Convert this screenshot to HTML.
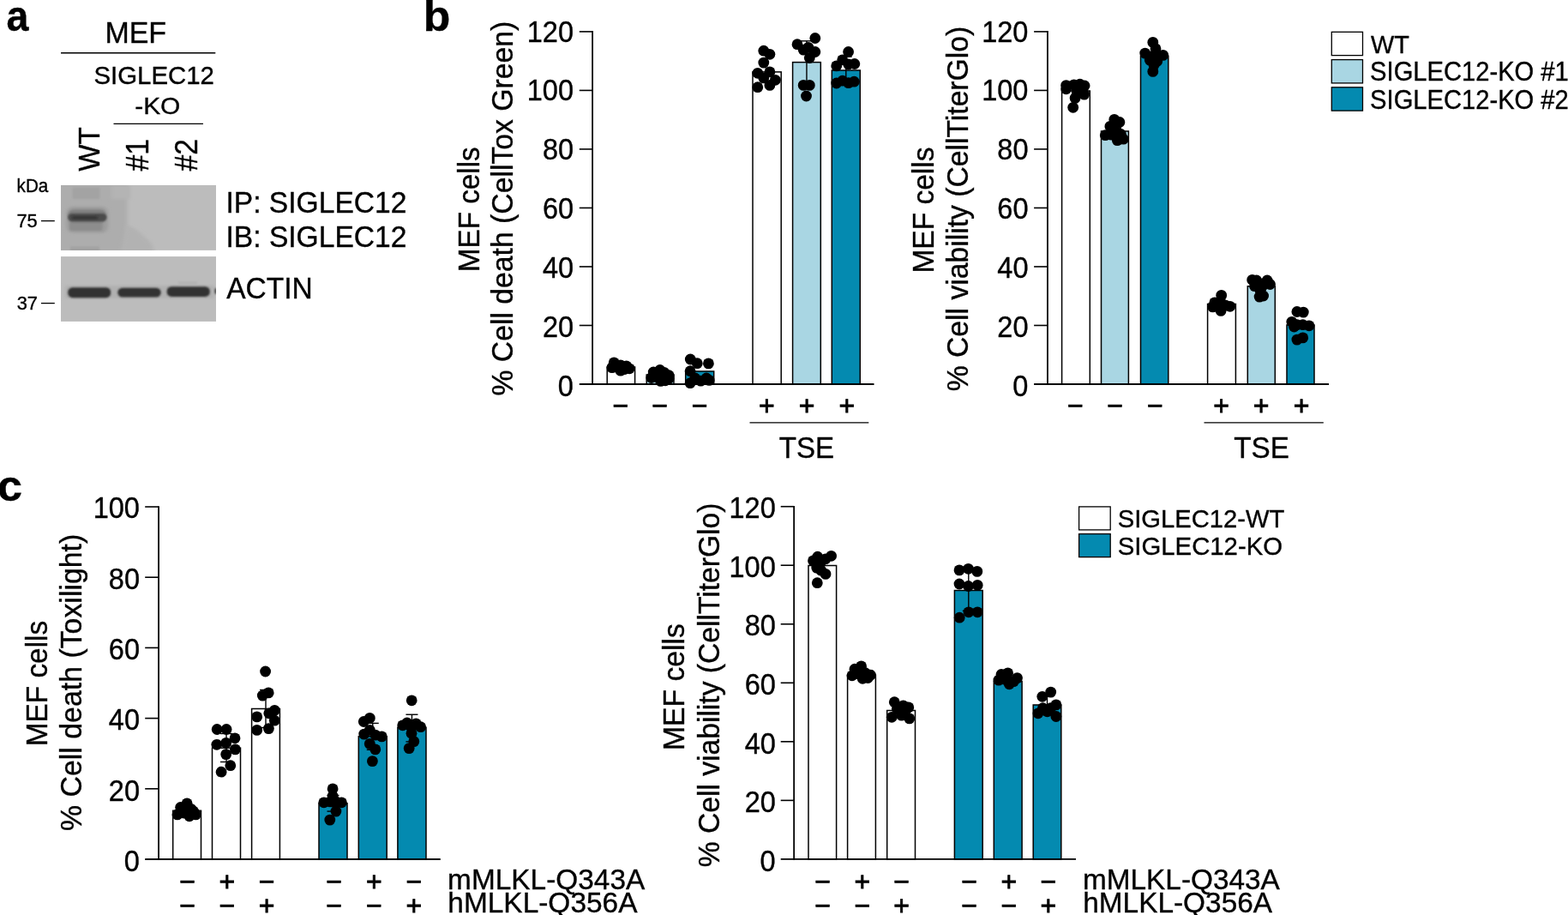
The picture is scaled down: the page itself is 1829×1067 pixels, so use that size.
<!DOCTYPE html>
<html lang="en">
<head>
<meta charset="utf-8">
<title>SIGLEC12 knockout MEF cell death and viability</title>
<style>
html,body{margin:0;padding:0;background:#fff;}
body{width:1829px;height:1067px;overflow:hidden;}
svg{display:block;}
svg text{font-family:"Liberation Sans", sans-serif;fill:#000;stroke:#000;stroke-width:0.35px;}
svg text.sg{stroke-width:0.8px;}
</style>
</head>
<body>
<svg width="1829" height="1067" viewBox="0 0 1829 1067">
<defs>
<filter id="bl1" x="-20%" y="-60%" width="140%" height="220%"><feGaussianBlur stdDeviation="1.3 1.1"/></filter>
<filter id="bl2" x="-20%" y="-60%" width="140%" height="220%"><feGaussianBlur stdDeviation="2.2 1.8"/></filter>
<filter id="bl3" x="-30%" y="-80%" width="160%" height="260%"><feGaussianBlur stdDeviation="3"/></filter>
<filter id="bl6" x="-40%" y="-40%" width="180%" height="180%"><feGaussianBlur stdDeviation="6"/></filter>
<clipPath id="clipA"><rect x="71" y="215.9" width="181" height="76"/></clipPath>
<clipPath id="clipB"><rect x="71" y="299.1" width="181" height="75.8"/></clipPath>
</defs>
<rect x="0" y="0" width="1829" height="1067" fill="#ffffff"/>

<g id="panel-a">
<text transform="translate(7.52 36.29) scale(1.0118 1.1028)" font-size="46" font-weight="bold">a</text>
</g>
<g id="panel-b-label">
<text transform="translate(493.67 36.29) scale(1.1226 1.1028)" font-size="46" font-weight="bold">b</text>
</g>
<g id="panel-c-label">
<text transform="translate(-3.05 584.29) scale(1.1339 1.1008)" font-size="46" font-weight="bold">c</text>
</g>
<g id="blot">
<text transform="translate(122.38 50.1) scale(1.029 1.0452)" font-size="33">MEF</text>
<line x1="71" y1="61.75" x2="251.3" y2="61.75" stroke="#000000" stroke-width="1.3"/>
<text transform="translate(109.49 97.81) scale(1.0494 1.0312)" font-size="28">SIGLEC12</text>
<text transform="translate(157.2 132.52) scale(1.0693 1.0161)" font-size="28">-KO</text>
<line x1="132.5" y1="144.3" x2="237" y2="144.3" stroke="#000000" stroke-width="1.3"/>
<text transform="translate(116.23 199.7) rotate(-90) scale(1.0041 1.0684)" font-size="33">WT</text>
<text transform="translate(173.2 199.5) rotate(-90) scale(1.0168 1.1039)" font-size="33">#1</text>
<text transform="translate(229.5 199.5) rotate(-90) scale(1.0168 1.1039)" font-size="33">#2</text>
<text transform="translate(19.61 223.54) scale(0.9843 1.0135)" font-size="21">kDa</text>
<text transform="translate(19.41 265.38) scale(1.0411 1.0403)" font-size="21">75</text>
<text transform="translate(19.64 361.44) scale(1.0393 1.057)" font-size="21">37</text>
<line x1="48" y1="257.6" x2="63.8" y2="257.6" stroke="#000000" stroke-width="1.3"/>
<line x1="48" y1="353.6" x2="63.8" y2="353.6" stroke="#000000" stroke-width="1.3"/>
<rect x="71" y="215.9" width="181" height="76" fill="#bcbcbc"/>
<g clip-path="url(#clipA)">
<rect x="55" y="200" width="93.5" height="110" fill="#adadad" filter="url(#bl2)"/>
<path d="M148 262 L160 268 L176 283 L182 296 L140 296 Z" fill="#b2b2b2" filter="url(#bl2)"/>
<rect x="130" y="216" width="22" height="16" fill="#b4b4b4" filter="url(#bl2)"/>
<rect x="84.5" y="218.5" width="32" height="13.5" fill="#a3a3a3" filter="url(#bl1)"/>
<rect x="77.5" y="241" width="48.5" height="30.5" rx="8" fill="#9b9b9b" filter="url(#bl2)"/>
<rect x="81" y="257.5" width="38.5" height="11.5" rx="3" fill="#8d8d8d" filter="url(#bl1)"/>
<rect x="79.5" y="244.5" width="44" height="15" rx="6" fill="#808080" filter="url(#bl1)"/>
<rect x="79.3" y="249" width="45.2" height="9.2" rx="4.6" fill="#4b4b4b" filter="url(#bl1)"/>
<rect x="84" y="252.2" width="30" height="3.4" rx="1.7" fill="#353535" filter="url(#bl1)"/>
<rect x="82" y="287.5" width="34" height="8" fill="#a1a1a1" filter="url(#bl1)"/>
</g>
<rect x="71" y="299.1" width="181" height="75.8" fill="#bcbcbc"/>
<g clip-path="url(#clipB)">
<rect x="76" y="333" width="174" height="15" fill="#b0b0b0" filter="url(#bl2)"/>
<rect x="79.2" y="335.2" width="50" height="12" rx="5.5" fill="#303030" filter="url(#bl1)"/>
<rect x="137.3" y="335.7" width="50.4" height="10.9" rx="5.5" fill="#303030" filter="url(#bl1)"/>
<rect x="194.6" y="334.2" width="50.2" height="11.7" rx="5.5" fill="#303030" filter="url(#bl1)"/>
<rect x="250.3" y="336" width="4" height="7" rx="2" fill="#4a4a4a" filter="url(#bl1)"/>
<rect x="208" y="328.5" width="22" height="3" fill="#b1b1b1" filter="url(#bl1)"/>
</g>
<text transform="translate(263.48 248.1) scale(1.018 1.0496)" font-size="33">IP: SIGLEC12</text>
<text transform="translate(263.48 287.8) scale(1.018 1.054)" font-size="33">IB: SIGLEC12</text>
<text transform="translate(264.2 347.5) scale(1.0149 1.0452)" font-size="33">ACTIN</text>
</g>
<g id="panel-b">
<g class="bars" stroke="#000000" stroke-width="1.5">
<rect x="708.2" y="428" width="32.4" height="20" fill="#ffffff"/>
<rect x="754.2" y="437" width="31.8" height="11" fill="#a9d6e3"/>
<rect x="799.7" y="433" width="33" height="15" fill="#048ab0"/>
<rect x="878" y="83.9" width="33.2" height="364.1" fill="#ffffff"/>
<rect x="924.6" y="72.6" width="32.7" height="375.4" fill="#a9d6e3"/>
<rect x="970.3" y="82" width="33" height="366" fill="#048ab0"/>
</g>
<line x1="691.1" y1="36.1" x2="691.1" y2="448.9" stroke="#000000" stroke-width="1.8"/>
<line x1="675.8" y1="448" x2="1019.5" y2="448" stroke="#000000" stroke-width="1.8"/>
<text transform="translate(650.85 462.07) scale(0.985 1.06)" font-size="33">0</text>
<line x1="675.8" y1="379.48" x2="691.1" y2="379.48" stroke="#000000" stroke-width="1.6"/>
<text transform="translate(632.91 393.15) scale(0.985 1.06)" font-size="33">20</text>
<line x1="675.8" y1="310.97" x2="691.1" y2="310.97" stroke="#000000" stroke-width="1.6"/>
<text transform="translate(632.91 324.23) scale(0.985 1.06)" font-size="33">40</text>
<line x1="675.8" y1="242.45" x2="691.1" y2="242.45" stroke="#000000" stroke-width="1.6"/>
<text transform="translate(632.91 255.32) scale(0.985 1.06)" font-size="33">60</text>
<line x1="675.8" y1="173.93" x2="691.1" y2="173.93" stroke="#000000" stroke-width="1.6"/>
<text transform="translate(632.91 186.4) scale(0.985 1.06)" font-size="33">80</text>
<line x1="675.8" y1="105.42" x2="691.1" y2="105.42" stroke="#000000" stroke-width="1.6"/>
<text transform="translate(614.77 117.48) scale(0.985 1.06)" font-size="33">100</text>
<line x1="675.8" y1="36.9" x2="691.1" y2="36.9" stroke="#000000" stroke-width="1.6"/>
<text transform="translate(614.77 48.57) scale(0.985 1.06)" font-size="33">120</text>
<g class="points">
<circle cx="716.2" cy="422.9" r="6.4"/>
<circle cx="713.9" cy="428.6" r="6.4"/>
<circle cx="723.9" cy="425.8" r="6.4"/>
<circle cx="730.6" cy="426.8" r="6.4"/>
<circle cx="734.2" cy="429.8" r="6.4"/>
<circle cx="723.9" cy="432.2" r="6.4"/>
<circle cx="719" cy="428" r="6.4"/>
<circle cx="728" cy="430.6" r="6.4"/>
<circle cx="769.8" cy="431.5" r="6.4"/>
<circle cx="762.2" cy="434" r="6.4"/>
<circle cx="759.8" cy="440.5" r="6.4"/>
<circle cx="780.2" cy="437.7" r="6.4"/>
<circle cx="780.2" cy="441.5" r="6.4"/>
<circle cx="770.6" cy="444.4" r="6.4"/>
<circle cx="774.7" cy="434.4" r="6.4"/>
<circle cx="765.7" cy="439.3" r="6.4"/>
<circle cx="776" cy="443.8" r="6.4"/>
<circle cx="805.3" cy="419" r="6.4"/>
<circle cx="813.3" cy="423.7" r="6.4"/>
<circle cx="826.4" cy="423.9" r="6.4"/>
<circle cx="805.1" cy="432.7" r="6.4"/>
<circle cx="805.1" cy="446.7" r="6.4"/>
<circle cx="810.8" cy="441" r="6.4"/>
<circle cx="824" cy="441" r="6.4"/>
<circle cx="827.2" cy="443.4" r="6.4"/>
<circle cx="817.4" cy="444.2" r="6.4"/>
<circle cx="890.8" cy="59.2" r="6.4"/>
<circle cx="897.9" cy="63.3" r="6.4"/>
<circle cx="890.8" cy="73.1" r="6.4"/>
<circle cx="883.8" cy="85.3" r="6.4"/>
<circle cx="897.9" cy="83.9" r="6.4"/>
<circle cx="890.8" cy="90.9" r="6.4"/>
<circle cx="904.4" cy="93.3" r="6.4"/>
<circle cx="897.9" cy="99.4" r="6.4"/>
<circle cx="883.8" cy="101.7" r="6.4"/>
<line x1="940.95" y1="47.8" x2="940.95" y2="97" stroke="#000000" stroke-width="1.4"/>
<line x1="933.95" y1="47.8" x2="947.95" y2="47.8" stroke="#000000" stroke-width="1.4"/>
<line x1="933.95" y1="97" x2="947.95" y2="97" stroke="#000000" stroke-width="1.4"/>
<circle cx="950.8" cy="44.5" r="6.4"/>
<circle cx="930" cy="51.7" r="6.4"/>
<circle cx="942.9" cy="55.3" r="6.4"/>
<circle cx="937.2" cy="58.1" r="6.4"/>
<circle cx="950.8" cy="60.5" r="6.4"/>
<circle cx="944.3" cy="67.5" r="6.4"/>
<circle cx="937.2" cy="99.4" r="6.4"/>
<circle cx="944.3" cy="99.4" r="6.4"/>
<circle cx="940.5" cy="112" r="6.4"/>
<line x1="986.8" y1="66" x2="986.8" y2="98" stroke="#000000" stroke-width="1.4"/>
<line x1="979.8" y1="66" x2="993.8" y2="66" stroke="#000000" stroke-width="1.4"/>
<line x1="979.8" y1="98" x2="993.8" y2="98" stroke="#000000" stroke-width="1.4"/>
<circle cx="989.6" cy="60.5" r="6.4"/>
<circle cx="982.7" cy="69.8" r="6.4"/>
<circle cx="975.7" cy="76.9" r="6.4"/>
<circle cx="989.7" cy="75" r="6.4"/>
<circle cx="996.8" cy="74.5" r="6.4"/>
<circle cx="975.7" cy="97" r="6.4"/>
<circle cx="982.7" cy="94.2" r="6.4"/>
<circle cx="989.7" cy="96.6" r="6.4"/>
<circle cx="996.3" cy="95.2" r="6.4"/>
</g>
<g class="bars" stroke="#000000" stroke-width="1.5">
<rect x="1238.6" y="106" width="32.7" height="342" fill="#ffffff"/>
<rect x="1284.5" y="153" width="31.9" height="295" fill="#a9d6e3"/>
<rect x="1330.5" y="65.3" width="32.3" height="382.7" fill="#048ab0"/>
<rect x="1408.6" y="354.5" width="32.8" height="93.5" fill="#ffffff"/>
<rect x="1455.3" y="333.8" width="32" height="114.2" fill="#a9d6e3"/>
<rect x="1501" y="379" width="32" height="69" fill="#048ab0"/>
</g>
<line x1="1221.95" y1="36.1" x2="1221.95" y2="448.9" stroke="#000000" stroke-width="1.8"/>
<line x1="1206.1" y1="448" x2="1550" y2="448" stroke="#000000" stroke-width="1.8"/>
<text transform="translate(1181.3 462.07) scale(0.985 1.06)" font-size="33">0</text>
<line x1="1206.1" y1="379.48" x2="1221.95" y2="379.48" stroke="#000000" stroke-width="1.6"/>
<text transform="translate(1163.36 393.15) scale(0.985 1.06)" font-size="33">20</text>
<line x1="1206.1" y1="310.97" x2="1221.95" y2="310.97" stroke="#000000" stroke-width="1.6"/>
<text transform="translate(1163.36 324.23) scale(0.985 1.06)" font-size="33">40</text>
<line x1="1206.1" y1="242.45" x2="1221.95" y2="242.45" stroke="#000000" stroke-width="1.6"/>
<text transform="translate(1163.36 255.32) scale(0.985 1.06)" font-size="33">60</text>
<line x1="1206.1" y1="173.93" x2="1221.95" y2="173.93" stroke="#000000" stroke-width="1.6"/>
<text transform="translate(1163.36 186.4) scale(0.985 1.06)" font-size="33">80</text>
<line x1="1206.1" y1="105.42" x2="1221.95" y2="105.42" stroke="#000000" stroke-width="1.6"/>
<text transform="translate(1145.22 117.48) scale(0.985 1.06)" font-size="33">100</text>
<line x1="1206.1" y1="36.9" x2="1221.95" y2="36.9" stroke="#000000" stroke-width="1.6"/>
<text transform="translate(1145.22 48.57) scale(0.985 1.06)" font-size="33">120</text>
<g class="points">
<circle cx="1243.6" cy="99.6" r="6.4"/>
<circle cx="1243.6" cy="103.8" r="6.4"/>
<circle cx="1252.7" cy="98.9" r="6.4"/>
<circle cx="1259.7" cy="98.2" r="6.4"/>
<circle cx="1265.1" cy="100" r="6.4"/>
<circle cx="1256.2" cy="107.3" r="6.4"/>
<circle cx="1264.7" cy="110.1" r="6.4"/>
<circle cx="1254.1" cy="114.4" r="6.4"/>
<circle cx="1251.7" cy="125.3" r="6.4"/>
<circle cx="1299.8" cy="139.4" r="6.4"/>
<circle cx="1305.9" cy="142.5" r="6.4"/>
<circle cx="1294.9" cy="147.4" r="6.4"/>
<circle cx="1301.9" cy="150.9" r="6.4"/>
<circle cx="1289.3" cy="157.7" r="6.4"/>
<circle cx="1307.5" cy="156.5" r="6.4"/>
<circle cx="1310.4" cy="162.2" r="6.4"/>
<circle cx="1303.3" cy="163.6" r="6.4"/>
<circle cx="1296.3" cy="157.2" r="6.4"/>
<circle cx="1344.8" cy="49.4" r="6.4"/>
<circle cx="1348" cy="56.7" r="6.4"/>
<circle cx="1335.7" cy="62.1" r="6.4"/>
<circle cx="1356.7" cy="64.4" r="6.4"/>
<circle cx="1345.5" cy="65.1" r="6.4"/>
<circle cx="1341.3" cy="70.1" r="6.4"/>
<circle cx="1349.7" cy="71.5" r="6.4"/>
<circle cx="1344.8" cy="83.4" r="6.4"/>
<circle cx="1346" cy="76" r="6.4"/>
<circle cx="1424.7" cy="344.4" r="6.4"/>
<circle cx="1416.8" cy="352.9" r="6.4"/>
<circle cx="1414.6" cy="357.9" r="6.4"/>
<circle cx="1424.1" cy="352.9" r="6.4"/>
<circle cx="1424.1" cy="362.4" r="6.4"/>
<circle cx="1434.8" cy="357.3" r="6.4"/>
<circle cx="1429.7" cy="356.2" r="6.4"/>
<circle cx="1421" cy="358" r="6.4"/>
<circle cx="1460.7" cy="326.4" r="6.4"/>
<circle cx="1465.7" cy="327" r="6.4"/>
<circle cx="1478.1" cy="327" r="6.4"/>
<circle cx="1481.5" cy="331.5" r="6.4"/>
<circle cx="1463.5" cy="333.7" r="6.4"/>
<circle cx="1472.5" cy="333.7" r="6.4"/>
<circle cx="1469.1" cy="346.1" r="6.4"/>
<circle cx="1473.6" cy="345" r="6.4"/>
<circle cx="1470" cy="339" r="6.4"/>
<circle cx="1512.9" cy="363.5" r="6.4"/>
<circle cx="1520.3" cy="364.1" r="6.4"/>
<circle cx="1506.8" cy="375.3" r="6.4"/>
<circle cx="1512.9" cy="378.7" r="6.4"/>
<circle cx="1519.7" cy="378.7" r="6.4"/>
<circle cx="1527" cy="379.8" r="6.4"/>
<circle cx="1512.9" cy="396.1" r="6.4"/>
<circle cx="1519.7" cy="393.9" r="6.4"/>
<circle cx="1509.5" cy="381" r="6.4"/>
</g>
<text transform="translate(558.6 317.16) rotate(-90) scale(1.0076 1.0496)" font-size="33">MEF cells</text>
<text transform="translate(598.2 461.61) rotate(-90) scale(1.0227 1.0496)" font-size="33">% Cell death (CellTox Green)</text>
<text transform="translate(1088.8 318.58) rotate(-90) scale(1.0154 1.0496)" font-size="33">MEF cells</text>
<text transform="translate(1128.8 456.31) rotate(-90) scale(1.0214 1.0496)" font-size="33">% Cell viability (CellTiterGlo)</text>
<text class="sg" x="714.48" y="483.67" font-size="32">−</text>
<text class="sg" x="760.18" y="483.67" font-size="32">−</text>
<text class="sg" x="806.68" y="483.67" font-size="32">−</text>
<text class="sg" x="885.06" y="483.72" font-size="32">+</text>
<text class="sg" x="931.66" y="483.72" font-size="32">+</text>
<text class="sg" x="978.46" y="483.72" font-size="32">+</text>
<line x1="874.5" y1="492.8" x2="1013.3" y2="492.8" stroke="#000000" stroke-width="1.3"/>
<text transform="translate(908.84 534) scale(1.0025 1.043)" font-size="33">TSE</text>
<text class="sg" x="1244.98" y="483.67" font-size="32">−</text>
<text class="sg" x="1291.28" y="483.67" font-size="32">−</text>
<text class="sg" x="1337.88" y="483.67" font-size="32">−</text>
<text class="sg" x="1415.26" y="483.72" font-size="32">+</text>
<text class="sg" x="1461.86" y="483.72" font-size="32">+</text>
<text class="sg" x="1508.66" y="483.72" font-size="32">+</text>
<line x1="1404.5" y1="492.8" x2="1543.8" y2="492.8" stroke="#000000" stroke-width="1.3"/>
<text transform="translate(1439.34 534) scale(1.0066 1.043)" font-size="33">TSE</text>
<rect x="1553.3" y="37.3" width="36.2" height="27.3" fill="#ffffff" stroke="#000000" stroke-width="1.3"/>
<rect x="1553.3" y="69.6" width="36.2" height="27.3" fill="#a9d6e3" stroke="#000000" stroke-width="1.3"/>
<rect x="1553.3" y="101.8" width="36.2" height="27.3" fill="#048ab0" stroke="#000000" stroke-width="1.3"/>
<text transform="translate(1599.03 62.15) scale(0.9959 1.042)" font-size="29">WT</text>
<text transform="translate(1598.1 94.3) scale(1.0052 1.0495)" font-size="29">SIGLEC12-KO #1</text>
<text transform="translate(1598.1 126.6) scale(1.0052 1.0495)" font-size="29">SIGLEC12-KO #2</text>
</g>
<g id="panel-c">
<g class="bars" stroke="#000000" stroke-width="1.5">
<rect x="201.7" y="945.3" width="32.8" height="56.7" fill="#ffffff"/>
<rect x="247.5" y="872.2" width="33" height="129.8" fill="#ffffff"/>
<rect x="293.6" y="826.5" width="32.8" height="175.5" fill="#ffffff"/>
<rect x="372" y="936.8" width="33" height="65.2" fill="#048ab0"/>
<rect x="418.3" y="858.8" width="32.9" height="143.2" fill="#048ab0"/>
<rect x="463.9" y="848.3" width="33.1" height="153.7" fill="#048ab0"/>
</g>
<line x1="185.05" y1="590.2" x2="185.05" y2="1002.9" stroke="#000000" stroke-width="1.8"/>
<line x1="169.2" y1="1002" x2="513.75" y2="1002" stroke="#000000" stroke-width="1.8"/>
<text transform="translate(144.75 1015.87) scale(0.985 1.06)" font-size="33">0</text>
<line x1="169.2" y1="919.8" x2="185.05" y2="919.8" stroke="#000000" stroke-width="1.6"/>
<text transform="translate(126.81 933.55) scale(0.985 1.06)" font-size="33">20</text>
<line x1="169.2" y1="837.6" x2="185.05" y2="837.6" stroke="#000000" stroke-width="1.6"/>
<text transform="translate(126.81 851.23) scale(0.985 1.06)" font-size="33">40</text>
<line x1="169.2" y1="755.4" x2="185.05" y2="755.4" stroke="#000000" stroke-width="1.6"/>
<text transform="translate(126.81 768.91) scale(0.985 1.06)" font-size="33">60</text>
<line x1="169.2" y1="673.2" x2="185.05" y2="673.2" stroke="#000000" stroke-width="1.6"/>
<text transform="translate(126.81 686.59) scale(0.985 1.06)" font-size="33">80</text>
<line x1="169.2" y1="591" x2="185.05" y2="591" stroke="#000000" stroke-width="1.6"/>
<text transform="translate(108.67 604.27) scale(0.985 1.06)" font-size="33">100</text>
<g class="points">
<circle cx="218.1" cy="936.8" r="6.4"/>
<circle cx="210.6" cy="941.5" r="6.4"/>
<circle cx="222.8" cy="943.3" r="6.4"/>
<circle cx="206.9" cy="949.9" r="6.4"/>
<circle cx="214.4" cy="948" r="6.4"/>
<circle cx="220.9" cy="951.8" r="6.4"/>
<circle cx="228.4" cy="949.9" r="6.4"/>
<circle cx="225.6" cy="946.1" r="6.4"/>
<line x1="264" y1="855.5" x2="264" y2="888.5" stroke="#000000" stroke-width="1.4"/>
<line x1="257" y1="855.5" x2="271" y2="855.5" stroke="#000000" stroke-width="1.4"/>
<line x1="257" y1="888.5" x2="271" y2="888.5" stroke="#000000" stroke-width="1.4"/>
<circle cx="253.2" cy="850.5" r="6.4"/>
<circle cx="264.1" cy="850.5" r="6.4"/>
<circle cx="274" cy="860.8" r="6.4"/>
<circle cx="252.8" cy="868.3" r="6.4"/>
<circle cx="263.7" cy="866.4" r="6.4"/>
<circle cx="274.4" cy="873.9" r="6.4"/>
<circle cx="263.7" cy="879.6" r="6.4"/>
<circle cx="268.8" cy="892.7" r="6.4"/>
<circle cx="258.1" cy="900.2" r="6.4"/>
<line x1="310" y1="804.5" x2="310" y2="848.5" stroke="#000000" stroke-width="1.4"/>
<line x1="303" y1="804.5" x2="317" y2="804.5" stroke="#000000" stroke-width="1.4"/>
<line x1="303" y1="848.5" x2="317" y2="848.5" stroke="#000000" stroke-width="1.4"/>
<circle cx="309.6" cy="783" r="6.4"/>
<circle cx="313.2" cy="807.9" r="6.4"/>
<circle cx="306.3" cy="811.1" r="6.4"/>
<circle cx="320.3" cy="828.4" r="6.4"/>
<circle cx="313.8" cy="831.8" r="6.4"/>
<circle cx="299.7" cy="835.9" r="6.4"/>
<circle cx="320.3" cy="840.2" r="6.4"/>
<circle cx="313.4" cy="849.6" r="6.4"/>
<circle cx="299.7" cy="851.4" r="6.4"/>
<line x1="388.5" y1="927.5" x2="388.5" y2="946.1" stroke="#000000" stroke-width="1.4"/>
<line x1="381.5" y1="927.5" x2="395.5" y2="927.5" stroke="#000000" stroke-width="1.4"/>
<line x1="381.5" y1="946.1" x2="395.5" y2="946.1" stroke="#000000" stroke-width="1.4"/>
<circle cx="388.1" cy="919.9" r="6.4"/>
<circle cx="388.1" cy="928.3" r="6.4"/>
<circle cx="377.8" cy="935.8" r="6.4"/>
<circle cx="385.3" cy="934.9" r="6.4"/>
<circle cx="391.9" cy="934.9" r="6.4"/>
<circle cx="398.4" cy="935.8" r="6.4"/>
<circle cx="391.9" cy="946.1" r="6.4"/>
<circle cx="384.8" cy="956.1" r="6.4"/>
<line x1="434.75" y1="843.4" x2="434.75" y2="874.3" stroke="#000000" stroke-width="1.4"/>
<line x1="427.75" y1="843.4" x2="441.75" y2="843.4" stroke="#000000" stroke-width="1.4"/>
<line x1="427.75" y1="874.3" x2="441.75" y2="874.3" stroke="#000000" stroke-width="1.4"/>
<circle cx="431.3" cy="837.4" r="6.4"/>
<circle cx="424.3" cy="841.5" r="6.4"/>
<circle cx="424.7" cy="856.1" r="6.4"/>
<circle cx="431.3" cy="851.4" r="6.4"/>
<circle cx="437.8" cy="857.1" r="6.4"/>
<circle cx="445.3" cy="858.9" r="6.4"/>
<circle cx="431.3" cy="867.4" r="6.4"/>
<circle cx="437.8" cy="873.9" r="6.4"/>
<circle cx="434.4" cy="887.6" r="6.4"/>
<line x1="480.45" y1="833.25" x2="480.45" y2="864.9" stroke="#000000" stroke-width="1.4"/>
<line x1="473.45" y1="833.25" x2="487.45" y2="833.25" stroke="#000000" stroke-width="1.4"/>
<line x1="473.45" y1="864.9" x2="487.45" y2="864.9" stroke="#000000" stroke-width="1.4"/>
<circle cx="480.2" cy="816.8" r="6.4"/>
<circle cx="469.7" cy="845.8" r="6.4"/>
<circle cx="474.8" cy="843" r="6.4"/>
<circle cx="485.3" cy="843.9" r="6.4"/>
<circle cx="490.7" cy="847.7" r="6.4"/>
<circle cx="480" cy="855.2" r="6.4"/>
<circle cx="482.8" cy="864.6" r="6.4"/>
<circle cx="477.2" cy="872.6" r="6.4"/>
<circle cx="480" cy="848.5" r="6.4"/>
</g>
<g class="bars" stroke="#000000" stroke-width="1.5">
<rect x="943" y="659.5" width="32.6" height="342.4" fill="#ffffff"/>
<rect x="988.6" y="787.2" width="32.8" height="214.7" fill="#ffffff"/>
<rect x="1034.7" y="828.5" width="32.8" height="173.4" fill="#ffffff"/>
<rect x="1113.4" y="688.5" width="32.8" height="313.4" fill="#048ab0"/>
<rect x="1159.3" y="794.5" width="32.8" height="207.4" fill="#048ab0"/>
<rect x="1205.2" y="822" width="32.6" height="179.9" fill="#048ab0"/>
</g>
<line x1="926.15" y1="589.9" x2="926.15" y2="1002.8" stroke="#000000" stroke-width="1.8"/>
<line x1="910.7" y1="1001.9" x2="1255" y2="1001.9" stroke="#000000" stroke-width="1.8"/>
<text transform="translate(886.6 1015.87) scale(0.985 1.06)" font-size="33">0</text>
<line x1="910.7" y1="933.37" x2="926.15" y2="933.37" stroke="#000000" stroke-width="1.6"/>
<text transform="translate(868.66 947.27) scale(0.985 1.06)" font-size="33">20</text>
<line x1="910.7" y1="864.83" x2="926.15" y2="864.83" stroke="#000000" stroke-width="1.6"/>
<text transform="translate(868.66 878.67) scale(0.985 1.06)" font-size="33">40</text>
<line x1="910.7" y1="796.3" x2="926.15" y2="796.3" stroke="#000000" stroke-width="1.6"/>
<text transform="translate(868.66 810.07) scale(0.985 1.06)" font-size="33">60</text>
<line x1="910.7" y1="727.77" x2="926.15" y2="727.77" stroke="#000000" stroke-width="1.6"/>
<text transform="translate(868.66 741.47) scale(0.985 1.06)" font-size="33">80</text>
<line x1="910.7" y1="659.23" x2="926.15" y2="659.23" stroke="#000000" stroke-width="1.6"/>
<text transform="translate(850.52 672.87) scale(0.985 1.06)" font-size="33">100</text>
<line x1="910.7" y1="590.7" x2="926.15" y2="590.7" stroke="#000000" stroke-width="1.6"/>
<text transform="translate(850.52 604.27) scale(0.985 1.06)" font-size="33">120</text>
<g class="points">
<circle cx="969.6" cy="648.3" r="6.4"/>
<circle cx="963" cy="651.8" r="6.4"/>
<circle cx="953.7" cy="649.2" r="6.4"/>
<circle cx="948.5" cy="653.9" r="6.4"/>
<circle cx="956.8" cy="657" r="6.4"/>
<circle cx="952.7" cy="662.1" r="6.4"/>
<circle cx="963" cy="669.4" r="6.4"/>
<circle cx="957.8" cy="665.2" r="6.4"/>
<circle cx="953.3" cy="679.7" r="6.4"/>
<circle cx="1004.6" cy="776.9" r="6.4"/>
<circle cx="997" cy="780.2" r="6.4"/>
<circle cx="993.9" cy="787.8" r="6.4"/>
<circle cx="1001.1" cy="785.8" r="6.4"/>
<circle cx="1009.3" cy="784.7" r="6.4"/>
<circle cx="1015.5" cy="787.2" r="6.4"/>
<circle cx="1006.2" cy="791.3" r="6.4"/>
<circle cx="1012.4" cy="790.5" r="6.4"/>
<circle cx="1043.3" cy="818.7" r="6.4"/>
<circle cx="1053.6" cy="822.9" r="6.4"/>
<circle cx="1059.8" cy="824.9" r="6.4"/>
<circle cx="1046.4" cy="827" r="6.4"/>
<circle cx="1040.2" cy="836.3" r="6.4"/>
<circle cx="1051.6" cy="834.2" r="6.4"/>
<circle cx="1060.8" cy="837.9" r="6.4"/>
<circle cx="1055.7" cy="830.2" r="6.4"/>
<line x1="1129.8" y1="666.2" x2="1129.8" y2="712.2" stroke="#000000" stroke-width="1.4"/>
<line x1="1122.8" y1="666.2" x2="1136.8" y2="666.2" stroke="#000000" stroke-width="1.4"/>
<line x1="1122.8" y1="712.2" x2="1136.8" y2="712.2" stroke="#000000" stroke-width="1.4"/>
<circle cx="1119" cy="664.9" r="6.4"/>
<circle cx="1129.5" cy="663.3" r="6.4"/>
<circle cx="1139.8" cy="666.4" r="6.4"/>
<circle cx="1119" cy="681" r="6.4"/>
<circle cx="1129.5" cy="683.5" r="6.4"/>
<circle cx="1140.2" cy="682.4" r="6.4"/>
<circle cx="1119.2" cy="720.2" r="6.4"/>
<circle cx="1129.9" cy="713.8" r="6.4"/>
<circle cx="1140.2" cy="713.8" r="6.4"/>
<circle cx="1175.6" cy="784.9" r="6.4"/>
<circle cx="1168" cy="786.5" r="6.4"/>
<circle cx="1164.9" cy="793.1" r="6.4"/>
<circle cx="1172.1" cy="792.3" r="6.4"/>
<circle cx="1186.5" cy="790.6" r="6.4"/>
<circle cx="1177.3" cy="797.8" r="6.4"/>
<circle cx="1182.4" cy="794.7" r="6.4"/>
<line x1="1221.5" y1="812.2" x2="1221.5" y2="830.2" stroke="#000000" stroke-width="1.4"/>
<line x1="1214.5" y1="812.2" x2="1228.5" y2="812.2" stroke="#000000" stroke-width="1.4"/>
<line x1="1214.5" y1="830.2" x2="1228.5" y2="830.2" stroke="#000000" stroke-width="1.4"/>
<circle cx="1225.7" cy="807.1" r="6.4"/>
<circle cx="1215.8" cy="812.3" r="6.4"/>
<circle cx="1231.9" cy="821.9" r="6.4"/>
<circle cx="1216.4" cy="825.7" r="6.4"/>
<circle cx="1210.9" cy="831.8" r="6.4"/>
<circle cx="1221.6" cy="829.8" r="6.4"/>
<circle cx="1231.9" cy="835.5" r="6.4"/>
<circle cx="1225.7" cy="825.7" r="6.4"/>
</g>
<text transform="translate(54.8 870.27) rotate(-90) scale(1.0112 1.0496)" font-size="33">MEF cells</text>
<text transform="translate(94.9 969.01) rotate(-90) scale(1.0263 1.0496)" font-size="33">% Cell death (Toxilight)</text>
<text transform="translate(798.3 874.89) rotate(-90) scale(1.0197 1.0496)" font-size="33">MEF cells</text>
<text transform="translate(838.8 1011.3) rotate(-90) scale(1.0197 1.0496)" font-size="33">% Cell viability (CellTiterGlo)</text>
<text class="sg" x="209.18" y="1038.87" font-size="32">−</text>
<text class="sg" x="255.46" y="1038.92" font-size="32">+</text>
<text class="sg" x="301.78" y="1038.87" font-size="32">−</text>
<text class="sg" x="380.18" y="1038.87" font-size="32">−</text>
<text class="sg" x="427.06" y="1038.92" font-size="32">+</text>
<text class="sg" x="473.48" y="1038.87" font-size="32">−</text>
<text class="sg" x="209.18" y="1066.87" font-size="32">−</text>
<text class="sg" x="255.38" y="1066.87" font-size="32">−</text>
<text class="sg" x="301.86" y="1066.92" font-size="32">+</text>
<text class="sg" x="380.18" y="1066.87" font-size="32">−</text>
<text class="sg" x="426.98" y="1066.87" font-size="32">−</text>
<text class="sg" x="473.56" y="1066.92" font-size="32">+</text>
<text class="sg" x="950.18" y="1038.87" font-size="32">−</text>
<text class="sg" x="996.46" y="1038.92" font-size="32">+</text>
<text class="sg" x="1042.28" y="1038.87" font-size="32">−</text>
<text class="sg" x="1121.18" y="1038.87" font-size="32">−</text>
<text class="sg" x="1167.56" y="1038.92" font-size="32">+</text>
<text class="sg" x="1213.48" y="1038.87" font-size="32">−</text>
<text class="sg" x="950.18" y="1066.87" font-size="32">−</text>
<text class="sg" x="996.38" y="1066.87" font-size="32">−</text>
<text class="sg" x="1042.36" y="1066.92" font-size="32">+</text>
<text class="sg" x="1121.18" y="1066.87" font-size="32">−</text>
<text class="sg" x="1167.48" y="1066.87" font-size="32">−</text>
<text class="sg" x="1213.56" y="1066.92" font-size="32">+</text>
<text transform="translate(522.07 1036.7) scale(1.0126 1.0057)" font-size="33">mMLKL-Q343A</text>
<text transform="translate(522.28 1063.8) scale(1.0141 1.0101)" font-size="33">hMLKL-Q356A</text>
<text transform="translate(1262.97 1036.7) scale(1.0113 1.0057)" font-size="33">mMLKL-Q343A</text>
<text transform="translate(1263.18 1063.8) scale(1.0122 1.0101)" font-size="33">hMLKL-Q356A</text>
<rect x="1258.6" y="590.9" width="36.6" height="27" fill="#ffffff" stroke="#000000" stroke-width="1.3"/>
<rect x="1258.6" y="622.6" width="36.6" height="27" fill="#048ab0" stroke="#000000" stroke-width="1.3"/>
<text transform="translate(1303.8 615.1) scale(1.0065 1.0045)" font-size="29">SIGLEC12-WT</text>
<text transform="translate(1303.79 646.9) scale(1.0112 1.0295)" font-size="29">SIGLEC12-KO</text>
</g>
</svg>
</body>
</html>
